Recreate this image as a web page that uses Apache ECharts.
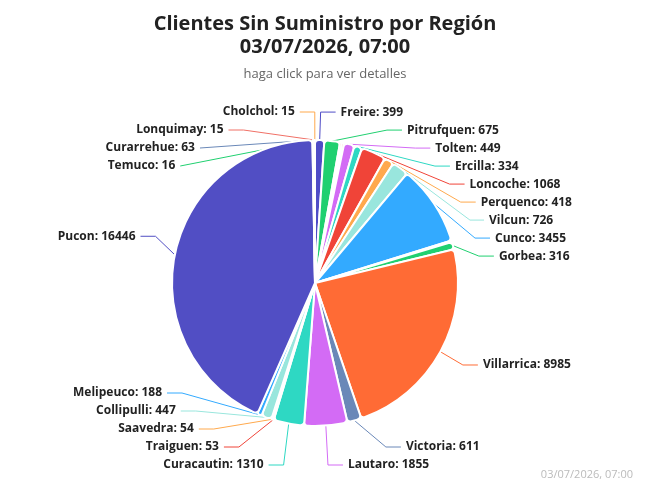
<!DOCTYPE html>
<html>
<head>
<meta charset="utf-8">
<script src="https://cdn.jsdelivr.net/npm/echarts@6/dist/echarts.min.js"></script>
<style>
  html, body { margin: 0; padding: 0; background: #fff; }
  #main { width: 650px; height: 487px; }
</style>
</head>
<body>
<div id="main"></div>
<script>
// datos por comuna, en orden horario desde arriba ('' = porciones sin etiqueta visible)
var regiones = ['Freire', 'Pitrufquen', '', ' ', 'Tolten', 'Ercilla', 'Loncoche', 'Perquenco', 'Vilcun', 'Cunco', '  ', 'Gorbea',
  'Villarrica', 'Victoria', 'Lautaro', 'Curacautin', 'Traiguen', 'Saavedra', 'Collipulli', 'Melipeuco',
  'Pucon', 'Temuco', 'Curarrehue', 'Lonquimay', 'Cholchol'];
var clientes = [399, 675, 90, 90, 449, 334, 1068, 418, 726, 3455, 70, 316,
  8985, 611, 1855, 1310, 53, 54, 447, 188,
  16446, 16, 63, 15, 15];
var colores = ['#4f4cc6', '#20d070', '#ff8a50', '#f04438', '#d36bf5', '#2ed8c3', '#f04438', '#ffa94d', '#99e6dd', '#33aaff', '#6a78c0', '#20d070',
  '#ff6b35', '#6a88b8', '#d36bf5', '#2ed8c3', '#f04438', '#ffa94d', '#99e6dd', '#33aaff',
  '#514ec4', '#20d070', '#6a88b8', '#f07066', '#ffa94d'];
var fecha = '03/07/2026, 07:00';

var FONT = '"Open Sans", "Noto Sans", sans-serif';

var myChart = echarts.init(document.getElementById('main'));

var datos = [];
for (let i = 0; i < regiones.length; i++) {
  var d = { name: regiones[i], value: clientes[i], itemStyle: { color: colores[i] } };
  if (regiones[i].trim() === '') {
    d.label = { show: false };
    d.labelLine = { show: false };
  }
  datos.push(d);
}

var option = {
  title: [
    {
      text: 'Clientes Sin Suministro por Región\n' + fecha,
      subtext: 'haga click para ver detalles',
      left: 'center',
      top: 8,
      itemGap: 9,
      textStyle: { fontFamily: FONT, fontSize: 20, fontWeight: 'bold', color: '#222', lineHeight: 23 },
      subtextStyle: { fontFamily: FONT, fontSize: 13, color: '#666' },
    },
    {
      text: fecha,
      right: 12,
      bottom: 2,
      textStyle: { fontFamily: FONT, fontSize: 11, fontWeight: 'normal', color: '#bbb' },
    },
  ],
  series: [
    {
      type: 'pie',
      left: 0,
      right: 0,
      top: 0,
      bottom: 13,
      center: [315, 283],
      radius: 143,
      startAngle: 90,
      clockwise: true,
      avoidLabelOverlap: true,
      itemStyle: { borderColor: '#fff', borderWidth: 2, borderRadius: 4 },
      label: {
        formatter: '{b}: {c}',
        fontFamily: FONT,
        fontSize: 12,
        fontWeight: 'bold',
        color: '#222',
        lineHeight: 16,
      },
      labelLine: { length: 28, length2: 15 },
      data: datos,
    },
  ],
};

myChart.setOption(option);
</script>
</body>
</html>
